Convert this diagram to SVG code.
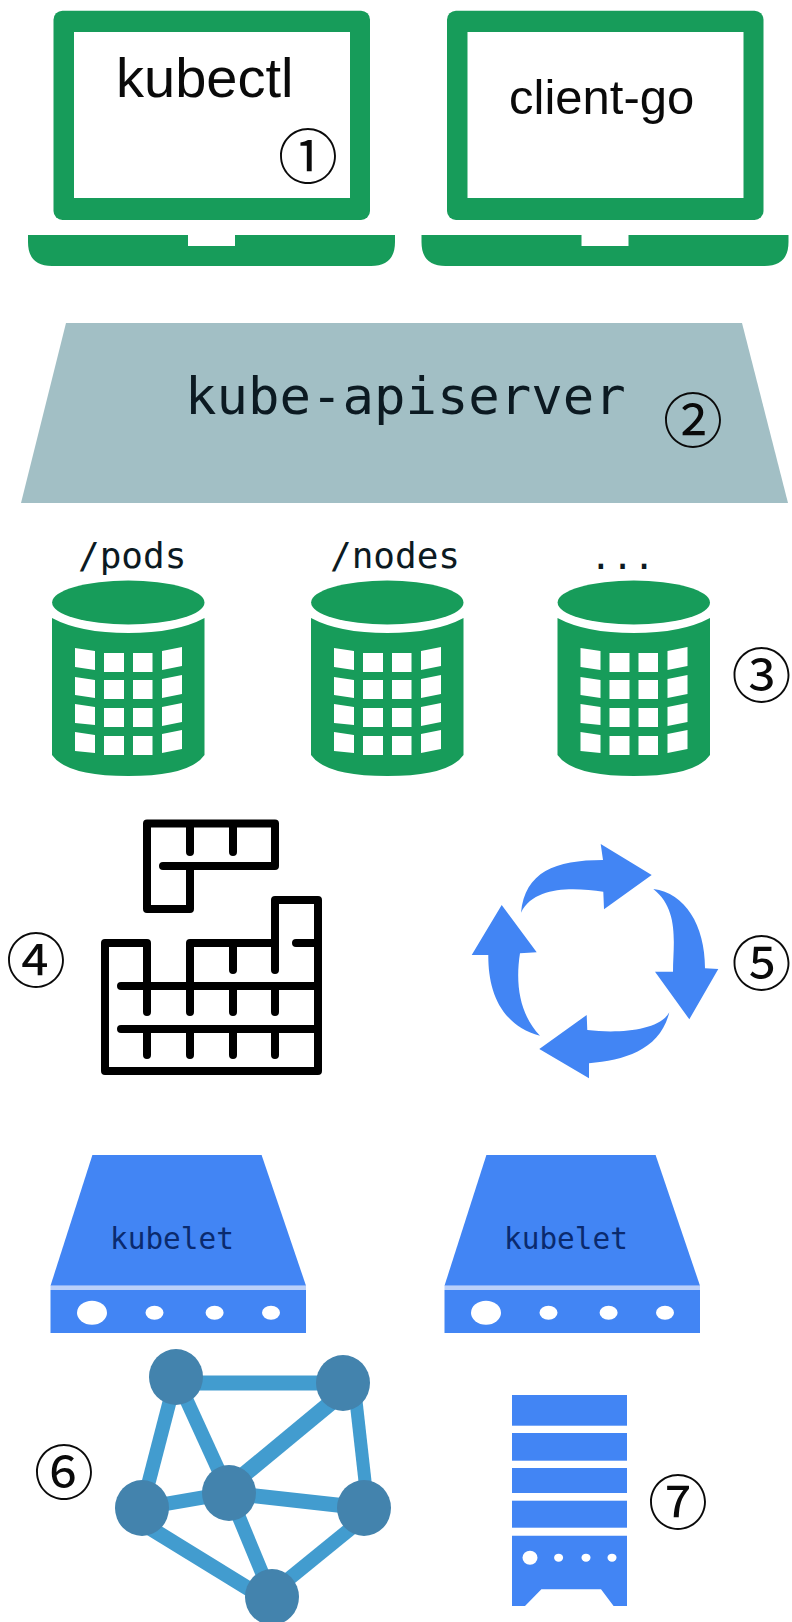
<svg xmlns="http://www.w3.org/2000/svg" xmlns:xlink="http://www.w3.org/1999/xlink" width="792" height="1622" viewBox="0 0 792 1622">
<style>
.g{fill:#179c5a}.b{fill:#4285f4}.w{fill:#fff}
.sans{font-family:"Liberation Sans",Arial,sans-serif;fill:#0a0a0a}
.mono{font-family:"DejaVu Sans Mono","Liberation Mono",monospace;fill:#0c1a22}
.num{font-family:"Noto Sans CJK JP","DejaVu Sans",sans-serif;font-size:60px;fill:#0a0a0a;text-anchor:middle}
.blk{fill:none;stroke:#000;stroke-width:8;stroke-linecap:round;stroke-linejoin:round}
.edge{stroke:#429ccf}
.hub{fill:#4383ad}
</style>
<defs>
<g id="laptop">
<rect class="g" x="53.500" y="10.700" width="316.500" height="209.300" rx="9"/>
<rect class="w" x="74" y="32" width="276" height="166"/>
<path class="g" d="M28 235H188V246H235V235H395V242Q395 266 371 266H52Q28 266 28 242Z"/>
</g>
<g id="cyl">
<ellipse class="g" cx="128.300" cy="602.500" rx="76.200" ry="22"/>
<path class="g" d="M52 618Q80 633 128.300 633T204.500 618V755Q190 776 128.300 776T52 755Z"/>
<g class="w">
<path d="M75 648L95 651V670L75 667ZM75 677L95 680V698L75 695ZM75 704L95 707V725L75 723ZM75 732L95 735V753L75 751Z"/>
<path d="M104 653H124V672H104ZM104 680H124V699H104ZM104 708H124V727H104ZM104 736H124V755H104Z"/>
<path d="M133 653H152.500V672H133ZM133 680H152.500V699H133ZM133 708H152.500V727H133ZM133 736H152.500V755H133Z"/>
<path d="M162 651L182 647V666L162 670ZM162 679L182 675V694L162 698ZM162 707L182 703V722L162 726ZM162 734L182 730V749L162 753Z"/>
</g>
</g>
<g id="server">
<path class="b" d="M92.400 1155H261.600L306 1285.700H50.500Z"/>
<rect class="b" x="50.500" y="1290" width="255.500" height="43"/>
<rect x="50.500" y="1285.700" width="255.500" height="4.300" fill="#b9d0fa"/>
<g class="w">
<ellipse cx="92" cy="1312.700" rx="15" ry="12"/>
<ellipse cx="154.500" cy="1312.700" rx="9" ry="7"/>
<ellipse cx="214.600" cy="1312.700" rx="9" ry="7"/>
<ellipse cx="271" cy="1312.700" rx="9" ry="7"/>
</g>
</g>
</defs>

<g id="laptop-kubectl">
<use xlink:href="#laptop" href="#laptop"/>
<text class="sans" x="116" y="97" font-size="56">kubectl</text>
<text class="num" x="308" y="179">①</text>
</g>
<g id="laptop-client-go">
<use xlink:href="#laptop" href="#laptop" x="393.500"/>
<text class="sans" x="509" y="114" font-size="49">client-go</text>
</g>

<g id="kube-apiserver">
<path fill="#a2bfc5" d="M66 323H742L788 503H21Z"/>
<text class="mono" x="185" y="414" font-size="52.300">kube-apiserver</text>
<text class="num" x="693" y="442.700">②</text>
</g>

<g id="store-pods">
<use xlink:href="#cyl" href="#cyl"/>
<text class="mono" x="78" y="568" font-size="36">/pods</text>
</g>
<g id="store-nodes">
<use xlink:href="#cyl" href="#cyl" x="259"/>
<text class="mono" x="330" y="568" font-size="36">/nodes</text>
</g>
<g id="store-more">
<use xlink:href="#cyl" href="#cyl" x="505.500"/>
<text class="mono" x="590" y="569" font-size="36">...</text>
<text class="num" x="761.500" y="697.700">③</text>
</g>

<g id="scheduler">
<path class="blk" d="M163 866H275V823.500H147V909H190V866M190 823.500V852M233 823.500V852"/>
<path class="blk" d="M147 1012V943H105V1071H318V900H275V970M190 1012V943H275M233 943V970M296 943H318M121 986H318M121 1029H318M233 986V1012M275 986V1012M147 1029V1055M190 1029V1055M233 1029V1055M275 1029V1055"/>
<text class="num" x="36" y="982.700">④</text>
</g>

<g id="controllers">
<path class="b" d="M521 912.700C525 872 555 860 603 860L600.700 844L651.700 875L604 909.300L603.300 891.700C575 888 535 885 521 912.700Z"/>
<path class="b" d="M653.300 889C685 893 705 925 705 968.300L718.300 969L689.300 1019.300L655 971.700L673 971.700C673 945 680 910 653.300 889Z"/>
<path class="b" d="M669.300 1012.300C660 1050 625 1060 589 1063.300L589 1078.300L539.300 1049L586.700 1015L587.300 1030C620 1034 660 1030 669.300 1012.300Z"/>
<path class="b" d="M540 1035.700C500 1025 488 990 488.300 955L471.700 955L501.700 905L536.700 952.300L520 953.300C515 985 520 1015 540 1035.700Z"/>
<text class="num" x="761.500" y="985.700">⑤</text>
</g>

<g id="kubelet-1">
<use xlink:href="#server" href="#server"/>
<text class="mono" x="110" y="1249" font-size="29.400" style="fill:#0a2a6e">kubelet</text>
</g>
<g id="kubelet-2">
<use xlink:href="#server" href="#server" x="394"/>
<text class="mono" x="504" y="1249" font-size="29.400" style="fill:#0a2a6e">kubelet</text>
</g>

<g id="network">
<g class="edge">
<line x1="176" y1="1383" x2="343" y2="1383" stroke-width="15"/>
<line x1="176" y1="1377" x2="142" y2="1508" stroke-width="14"/>
<line x1="176" y1="1377" x2="229" y2="1493" stroke-width="14"/>
<line x1="345" y1="1391" x2="235" y2="1482" stroke-width="16"/>
<line x1="354" y1="1383" x2="368" y2="1508" stroke-width="13"/>
<line x1="142" y1="1508" x2="229" y2="1493" stroke-width="14"/>
<line x1="229" y1="1493" x2="364" y2="1508" stroke-width="15"/>
<line x1="150" y1="1528" x2="262" y2="1597" stroke-width="15"/>
<line x1="229" y1="1493" x2="272" y2="1597" stroke-width="14"/>
<line x1="355" y1="1525" x2="285" y2="1582" stroke-width="14"/>
</g>
<ellipse class="hub" cx="176" cy="1377" rx="27" ry="28"/>
<ellipse class="hub" cx="343" cy="1383" rx="27" ry="28"/>
<ellipse class="hub" cx="142" cy="1508" rx="27" ry="28"/>
<ellipse class="hub" cx="229" cy="1493" rx="27" ry="28"/>
<ellipse class="hub" cx="364" cy="1508" rx="27" ry="28"/>
<ellipse class="hub" cx="272" cy="1597" rx="27" ry="28"/>
<text class="num" x="64" y="1494.700">⑥</text>
</g>

<g id="rack">
<rect class="b" x="512" y="1395" width="115" height="30.700"/>
<rect class="b" x="512" y="1433" width="115" height="27.700"/>
<rect class="b" x="512" y="1468" width="115" height="25"/>
<rect class="b" x="512" y="1500.700" width="115" height="27"/>
<path class="b" d="M512 1535.700H627V1606H613.600L601 1589.300H541.400L525 1606H512Z"/>
<g class="w">
<ellipse cx="530" cy="1557.700" rx="7.500" ry="7"/>
<ellipse cx="558.600" cy="1557.700" rx="4.500" ry="4"/>
<ellipse cx="586" cy="1557.700" rx="4.500" ry="4"/>
<ellipse cx="612" cy="1557.700" rx="4.500" ry="4"/>
</g>
<text class="num" x="678" y="1524.700">⑦</text>
</g>
</svg>
